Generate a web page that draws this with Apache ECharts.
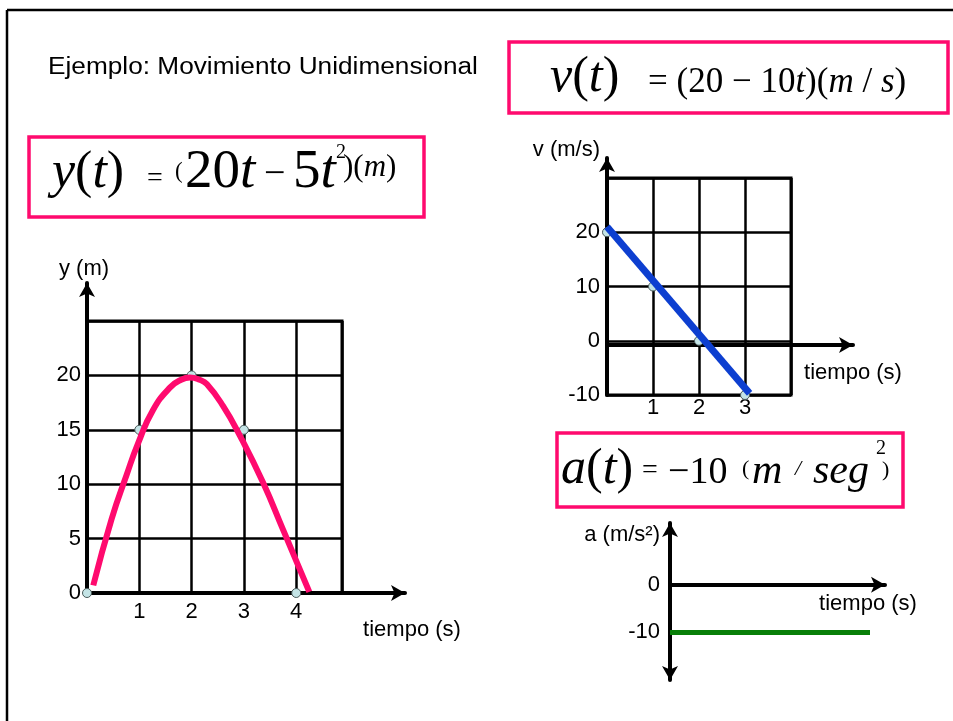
<!DOCTYPE html>
<html>
<head>
<meta charset="utf-8">
<title>Movimiento Unidimensional</title>
<script src="https://cdn.jsdelivr.net/npm/echarts@6/dist/echarts.min.js"></script>
<style>
  html, body { margin: 0; padding: 0; background: #fff; }
  #main { width: 953px; height: 721px; }
</style>
</head>
<body>
<div id="main"></div>
<script>
// posicion y(t)
var posTime = [0.12, 0.47, 0.76, 0.98, 1.26, 1.59, 1.8, 1.97, 2.15, 2.29, 2.6, 2.93, 3.37, 3.75, 4.25];
var posValue = [0.7, 6.8, 10.9, 13.8, 16.8, 18.9, 19.6, 19.8, 19.6, 19.2, 17.2, 14.4, 10.1, 5.8, 0.1];
var posPointTime = [0, 1, 2, 3, 4];
var posPointValue = [0, 15, 20, 15, 0];

// velocidad v(t)
var velTime = [0, 3.1];
var velValue = [21, -9.7];
var velPointTime = [0, 1, 2, 3];
var velPointValue = [20, 10, 0, -10];

// aceleracion a(t)
var accTime = [0, 4];
var accValue = [-10, -10];

// etiquetas de los ejes
var posTicksX = [1, 2, 3, 4];
var posTicksY = [0, 5, 10, 15, 20];
var velTicksX = [1, 2, 3];
var velTicksY = [-10, 0, 10, 20];
var accTicksY = [-10, 0];

var SANS = '"Liberation Sans", Arial, sans-serif';
var SERIF = '"Liberation Serif", "Times New Roman", serif';
var PINK = '#ff0a6e';

function pairs(xs, ys) {
  return xs.map(function (x, i) { return [x, ys[i]]; });
}

function only(list) {
  return function (v) { return list.indexOf(v) >= 0 ? String(v) : ''; };
}

function labelStyle(list, margin) {
  return { formatter: only(list), margin: margin, fontSize: 22, color: '#000', fontFamily: SANS };
}

var gridLine = { show: true, lineStyle: { color: '#000', width: 2.5 } };
var noLine = { show: false, onZero: false };

function arrowLine(symbol) {
  return {
    show: true, onZero: true,
    symbol: symbol, symbolSize: [12, 14],
    lineStyle: { color: '#000', width: 4 }
  };
}

function nameStyle(align, vAlign, padding) {
  return { fontSize: 22, color: '#000', fontFamily: SANS, align: align, verticalAlign: vAlign, padding: padding };
}

// texto de formula con partes en cursiva
function formula(x, y, size, text) {
  return {
    type: 'text', x: x, y: y, z: 20,
    style: {
      text: text, fill: '#000',
      align: 'left', verticalAlign: 'middle',
      textAlign: 'left', textVerticalAlign: 'middle',
      rich: {
        i: { fontFamily: SERIF, fontStyle: 'italic', fontSize: size, fill: '#000' },
        r: { fontFamily: SERIF, fontSize: size, fill: '#000' }
      }
    }
  };
}

function box(x, y, w, h) {
  return {
    type: 'rect', z: 15,
    shape: { x: x, y: y, width: w, height: h },
    style: { fill: '#fff', stroke: PINK, lineWidth: 3.5 }
  };
}

var chart = echarts.init(document.getElementById('main'), null, { renderer: 'canvas' });

var option = {
  animation: false,
  backgroundColor: '#fff',
  grid: [
    { left: 87, top: 321, width: 255, height: 272, show: true, borderColor: '#000', borderWidth: 3 },
    { left: 87, top: 283, width: 318, height: 310 },
    { left: 607, top: 178, width: 184, height: 217, show: true, borderColor: '#000', borderWidth: 3 },
    { left: 607, top: 158, width: 246, height: 237 },
    { left: 670, top: 523, width: 215, height: 157 }
  ],
  xAxis: [
    { gridIndex: 0, type: 'value', min: 0, max: 4.875, interval: 1,
      axisLine: noLine, axisTick: { show: false }, splitLine: gridLine,
      axisLabel: labelStyle(posTicksX, 8) },
    { gridIndex: 1, type: 'value', min: 0, max: 1,
      axisLine: arrowLine(['none', 'arrow']), axisTick: { show: false },
      splitLine: { show: false }, axisLabel: { show: false },
      name: 'tiempo (s)', nameLocation: 'end', nameGap: 7,
      nameTextStyle: nameStyle('center', 'top', [26, 0, 0, 0]) },
    { gridIndex: 2, type: 'value', min: 0, max: 4, interval: 1,
      axisLine: noLine, axisTick: { show: false }, splitLine: gridLine,
      axisLabel: labelStyle(velTicksX, 2) },
    { gridIndex: 3, type: 'value', min: 0, max: 1,
      axisLine: arrowLine(['none', 'arrow']), axisTick: { show: false },
      splitLine: { show: false }, axisLabel: { show: false },
      name: 'tiempo (s)', nameLocation: 'end', nameGap: 0,
      nameTextStyle: nameStyle('center', 'top', [17, 0, 0, 0]) },
    { gridIndex: 4, type: 'value', min: 0, max: 4.3,
      axisLine: arrowLine(['none', 'arrow']), axisTick: { show: false },
      splitLine: { show: false }, axisLabel: { show: false },
      name: 'tiempo (s)', nameLocation: 'end', nameGap: -17,
      nameTextStyle: nameStyle('center', 'top', [8, 0, 0, 0]) }
  ],
  yAxis: [
    { gridIndex: 0, type: 'value', min: 0, max: 25, interval: 5,
      axisLine: noLine, axisTick: { show: false }, splitLine: gridLine,
      axisLabel: labelStyle(posTicksY, 6) },
    { gridIndex: 1, type: 'value', min: 0, max: 1,
      axisLine: arrowLine(['none', 'arrow']), axisTick: { show: false },
      splitLine: { show: false }, axisLabel: { show: false },
      name: 'y (m)', nameLocation: 'end', nameGap: 3,
      nameTextStyle: nameStyle('center', 'bottom', [0, 6, 0, 0]) },
    { gridIndex: 2, type: 'value', min: -10, max: 30, interval: 10,
      axisLine: noLine, axisTick: { show: false }, splitLine: gridLine,
      axisLabel: labelStyle(velTicksY, 7) },
    { gridIndex: 3, type: 'value', min: -10, max: 37.4,
      axisLine: arrowLine(['none', 'arrow']), axisTick: { show: false },
      splitLine: { show: false }, axisLabel: { show: false },
      name: 'v (m/s)', nameLocation: 'end', nameGap: 8,
      nameTextStyle: nameStyle('right', 'middle', [0, 7, 0, 0]) },
    { gridIndex: 4, type: 'value', min: -20, max: 13, interval: 10,
      axisLine: arrowLine(['arrow', 'arrow']), axisTick: { show: false },
      splitLine: { show: false }, axisLabel: labelStyle(accTicksY, 10),
      name: 'a (m/s²)', nameLocation: 'end', nameGap: -12,
      nameTextStyle: nameStyle('right', 'middle', [0, 10, 0, 0]) }
  ],
  series: [
    { type: 'scatter', xAxisIndex: 0, yAxisIndex: 0, z: 2, clip: false,
      data: pairs(posPointTime, posPointValue), symbolSize: 9,
      itemStyle: { color: '#c4e4e6', borderColor: '#4a5a5a', borderWidth: 1, opacity: 1 } },
    { type: 'line', xAxisIndex: 0, yAxisIndex: 0, z: 3, clip: false,
      data: pairs(posTime, posValue), smooth: 0.5, showSymbol: false,
      lineStyle: { color: PINK, width: 6 } },
    { type: 'scatter', xAxisIndex: 2, yAxisIndex: 2, z: 2, clip: false,
      data: pairs(velPointTime, velPointValue), symbolSize: 9,
      itemStyle: { color: '#c4e4e6', borderColor: '#4a5a5a', borderWidth: 1, opacity: 1 } },
    { type: 'line', xAxisIndex: 2, yAxisIndex: 2, z: 3, clip: false,
      data: pairs(velTime, velValue), showSymbol: false,
      lineStyle: { color: '#0d3fd0', width: 7 } },
    { type: 'line', xAxisIndex: 4, yAxisIndex: 4, z: 3, clip: false,
      data: pairs(accTime, accValue), showSymbol: false,
      lineStyle: { color: '#087f08', width: 5 } }
  ],
  graphic: [
    { type: 'line', z: 5, shape: { x1: 7, y1: 10, x2: 953, y2: 10 }, style: { stroke: '#000', lineWidth: 2.5 } },
    { type: 'line', z: 5, shape: { x1: 7, y1: 10, x2: 7, y2: 721 }, style: { stroke: '#000', lineWidth: 2.5 } },
    { type: 'text', x: 48, y: 68, z: 20, scaleX: 1.14,
      style: { text: 'Ejemplo: Movimiento Unidimensional', fill: '#000', font: '23px ' + SANS,
        align: 'left', verticalAlign: 'middle', textAlign: 'left', textVerticalAlign: 'middle' } },

    box(509, 42, 439, 71),
    formula(550, 78, 50, '{i|v}{r|(}{i|t}{r|)}'),
    formula(648, 83, 35, '{r|= (20 − 10}{i|t}{r|)(}{i|m}{r| / }{i|s}{r|)}'),

    box(29, 137, 395, 80),
    formula(52, 173, 52, '{i|y}{r|(}{i|t}{r|)}'),
    formula(147, 179, 28, '{r|=}'),
    formula(175, 172, 23, '{r|(}'),
    formula(185, 173, 55, '{r|20}{i|t}'),
    formula(264, 175, 38, '{r|−}'),
    formula(293, 173, 55, '{r|5}{i|t}'),
    formula(336, 153, 20, '{r|2}'),
    formula(343, 168, 31, '{r|)(}{i|m}{r|)}'),

    box(557, 433, 346, 74),
    formula(561, 470, 50, '{i|a}{r|(}{i|t}{r|)}'),
    formula(642, 471, 28, '{r|=}'),
    formula(668, 473, 38, '{r|−10}'),
    formula(742, 469, 22, '{r|(}'),
    formula(752, 472, 42, '{i|m}'),
    formula(795, 469, 22, '{i|/}'),
    formula(813, 472, 42, '{i|seg}'),
    formula(876, 449, 20, '{r|2}'),
    formula(882, 470, 22, '{r|)}')
  ]
};

chart.setOption(option);
</script>
</body>
</html>
